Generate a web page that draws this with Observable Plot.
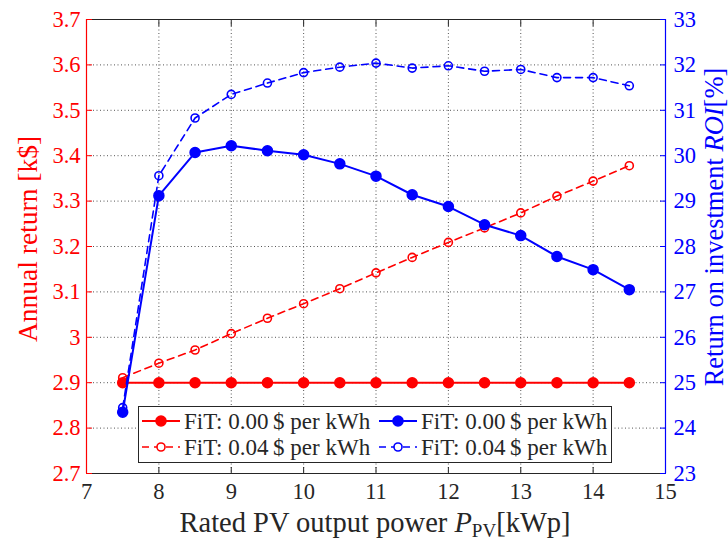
<!DOCTYPE html>
<html>
<head>
<meta charset="utf-8">
<script src="https://cdn.jsdelivr.net/npm/d3@7"></script>
<script src="https://cdn.jsdelivr.net/npm/@observablehq/plot@0.6"></script>
<style>
  html, body { margin: 0; padding: 0; background: white; }
  #chart { position: relative; width: 728px; height: 542px; }
  #chart > svg { position: absolute; left: 0; top: 0; }
  #chart svg text { font-family: "Liberation Serif", serif; }
</style>
</head>
<body>
<div id="chart"></div>
<script>
// ---- data ----
const pv = [7.5, 8, 8.5, 9, 9.5, 10, 10.5, 11, 11.5, 12, 12.5, 13, 13.5, 14, 14.5];
const annualFit000 = [2.9, 2.9, 2.9, 2.9, 2.9, 2.9, 2.9, 2.9, 2.9, 2.9, 2.9, 2.9, 2.9, 2.9, 2.9];
const annualFit004 = [2.911, 2.943, 2.972, 3.008, 3.042, 3.074, 3.107, 3.142, 3.176, 3.209, 3.241, 3.274, 3.311, 3.344, 3.378];
const roiFit000 = [24.35, 29.12, 30.07, 30.22, 30.11, 30.02, 29.82, 29.55, 29.14, 28.88, 28.48, 28.24, 27.78, 27.49, 27.05];
const roiFit004 = [24.45, 29.56, 30.83, 31.35, 31.6, 31.83, 31.95, 32.04, 31.93, 31.98, 31.86, 31.9, 31.72, 31.72, 31.54];
const xTicks = [7, 8, 9, 10, 11, 12, 13, 14, 15];
const leftTicks = [2.7, 2.8, 2.9, 3, 3.1, 3.2, 3.3, 3.4, 3.5, 3.6, 3.7];
const rightTicks = [23, 24, 25, 26, 27, 28, 29, 30, 31, 32, 33];
const legendLabels = ["FiT: 0.00\u2009$ per kWh", "FiT: 0.04\u2009$ per kWh"];

const RED = "#ff0000", BLUE = "#0000ff", INK = "#262626";
const W = 728, H = 542;
const M = {left: 86, right: 63, top: 19, bottom: 69};

const rows = (ys) => pv.map((x, i) => ({x, y: ys[i]}));
const dash = "7,5";

const common = {
  width: W, height: H,
  marginLeft: M.left, marginRight: M.right, marginTop: M.top, marginBottom: M.bottom,
  x: {domain: [7, 15]}
};

const p1 = Plot.plot({
  ...common,
  style: {fontSize: "22px", background: "white", color: INK, overflow: "visible"},
  y: {domain: [2.7, 3.7]},
  marks: [
    Plot.gridX(xTicks.slice(1, -1), {stroke: "#555", strokeOpacity: 1, strokeWidth: 1, strokeDasharray: "1,2.5"}),
    Plot.gridY(leftTicks.slice(1, -1), {stroke: "#555", strokeOpacity: 1, strokeWidth: 1, strokeDasharray: "1,2.5"}),
    Plot.ruleY([3.7, 2.7], {stroke: INK, strokeWidth: 1}),
    Plot.axisX(xTicks, {anchor: "bottom", tickSize: -6, tickPadding: 16, stroke: INK, fill: INK, label: null, fontSize: 22.5}),
    Plot.axisX(xTicks, {anchor: "top", tickSize: -6, tickFormat: () => "", stroke: INK, label: null}),
    Plot.axisY(leftTicks, {anchor: "left", tickSize: -6, tickPadding: 12, stroke: RED, fill: RED, label: null, fontSize: 22.5, tickFormat: d => String(d)}),
    Plot.ruleX([7], {stroke: RED, strokeWidth: 1.2}),
    Plot.line(rows(annualFit000), {x: "x", y: "y", stroke: RED, strokeWidth: 2}),
    Plot.dot(rows(annualFit000), {x: "x", y: "y", r: 5, fill: RED, stroke: RED}),
    Plot.line(rows(annualFit004), {x: "x", y: "y", stroke: RED, strokeWidth: 1.6, strokeDasharray: dash}),
    Plot.dot(rows(annualFit004), {x: "x", y: "y", r: 4, fill: "none", stroke: RED, strokeWidth: 1.6})
  ]
});

const p2 = Plot.plot({
  ...common,
  style: {fontSize: "22px", background: "transparent", color: BLUE, overflow: "visible"},
  x: {domain: [7, 15], axis: null},
  y: {domain: [23, 33]},
  marks: [
    Plot.axisY(rightTicks, {anchor: "right", tickSize: -6, tickPadding: 14, stroke: BLUE, fill: BLUE, label: null, fontSize: 22.5}),
    Plot.ruleX([15], {stroke: BLUE, strokeWidth: 1.2}),
    Plot.line(rows(roiFit000), {x: "x", y: "y", stroke: BLUE, strokeWidth: 2}),
    Plot.dot(rows(roiFit000), {x: "x", y: "y", r: 5, fill: BLUE, stroke: BLUE}),
    Plot.line(rows(roiFit004), {x: "x", y: "y", stroke: BLUE, strokeWidth: 1.6, strokeDasharray: dash}),
    Plot.dot(rows(roiFit004), {x: "x", y: "y", r: 4, fill: "none", stroke: BLUE, strokeWidth: 1.6})
  ]
});

const chart = document.getElementById("chart");
chart.appendChild(p1);
chart.appendChild(p2);

// ---- axis titles and legend (overlay svg) ----
const ov = d3.select(chart).append("svg")
  .attr("width", W).attr("height", H);

// left title
ov.append("text")
  .attr("transform", "translate(27,239) rotate(-90)")
  .attr("text-anchor", "middle").attr("dominant-baseline", "central")
  .attr("fill", RED).attr("font-size", 27.5)
  .text("Annual return [k$]");

// right title
const rt = ov.append("text")
  .attr("transform", "translate(714,227) rotate(-90)")
  .attr("text-anchor", "middle").attr("dominant-baseline", "central")
  .attr("fill", BLUE).attr("font-size", 26.5);
rt.append("tspan").text("Return on investment ");
rt.append("tspan").attr("font-style", "italic").text("ROI");
rt.append("tspan").text("[%]");

// x title
const xt = ov.append("text")
  .attr("x", 375).attr("y", 532)
  .attr("text-anchor", "middle")
  .attr("fill", INK).attr("font-size", 28.5);
xt.append("tspan").text("Rated PV output power ");
xt.append("tspan").attr("font-style", "italic").text("P");
xt.append("tspan").attr("font-size", 19).attr("dy", 5).text("PV");
xt.append("tspan").attr("dy", -5).text("[kWp]");

// legend
const lg = ov.append("g");
lg.append("rect").attr("x", 138.5).attr("y", 406.5).attr("width", 473).attr("height", 56)
  .attr("fill", "white").attr("stroke", INK).attr("stroke-width", 1);
const items = [
  {col: 0, row: 0, color: RED, dashed: false, label: legendLabels[0]},
  {col: 1, row: 0, color: BLUE, dashed: false, label: legendLabels[0]},
  {col: 0, row: 1, color: RED, dashed: true, label: legendLabels[1]},
  {col: 1, row: 1, color: BLUE, dashed: true, label: legendLabels[1]}
];
const colX = [142, 379];
const rowY = [421, 447];
items.forEach(it => {
  const x0 = colX[it.col], y0 = rowY[it.row];
  lg.append("line").attr("x1", x0).attr("x2", x0 + 38).attr("y1", y0).attr("y2", y0)
    .attr("stroke", it.color).attr("stroke-width", it.dashed ? 1.6 : 2)
    .attr("stroke-dasharray", it.dashed ? dash : null);
  lg.append("circle").attr("cx", x0 + 19).attr("cy", y0).attr("r", it.dashed ? 4 : 5)
    .attr("fill", it.dashed ? "white" : it.color).attr("stroke", it.color).attr("stroke-width", 1.6);
  lg.append("text").attr("x", x0 + 42).attr("y", y0).attr("dominant-baseline", "central")
    .attr("fill", INK).attr("font-size", 23).text(it.label);
});
</script>
</body>
</html>
